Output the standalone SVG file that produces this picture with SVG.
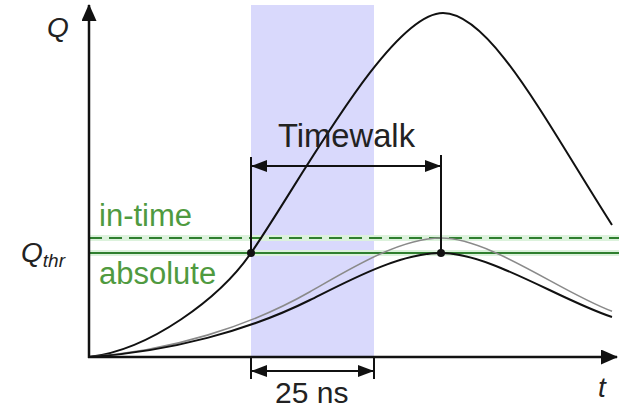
<svg xmlns="http://www.w3.org/2000/svg" width="619" height="410" viewBox="0 0 619 410">
<style>
.ax{stroke:#111;stroke-width:2.5;fill:none}
.crv{stroke:#111;stroke-width:2;fill:none}
.gry{stroke:#8a8a8a;stroke-width:1.6;fill:none}
.dim{stroke:#111;stroke-width:2;fill:none}
.halo{stroke:#dcf2dc;stroke-width:6;fill:none}
.thr{stroke:#2f7f2f;stroke-width:2.2;fill:none}
.lbl{font-family:"Liberation Sans",Arial,sans-serif;fill:#222}
.it{font-style:italic}
.grn{fill:#4f9a40}
</style>
<defs>
<marker id="ah" viewBox="0 0 16 12" refX="15" refY="6" markerWidth="16" markerHeight="12" markerUnits="userSpaceOnUse" orient="auto-start-reverse">
<path d="M0,0 L16,6 L0,12 Z" fill="#111"/>
</marker>
<marker id="axh" viewBox="0 0 17 15" refX="16" refY="7.5" markerWidth="17" markerHeight="15" markerUnits="userSpaceOnUse" orient="auto">
<path d="M0,0 L17,7.5 L0,15 Z" fill="#111"/>
</marker>
</defs>
<rect width="619" height="410" fill="#fff"/>
<g id="band"><rect x="251" y="5" width="123" height="352" fill="#d9d9fc"/></g>
<g id="thresholds">
<line class="halo" x1="89" y1="238" x2="619" y2="238"/>
<line class="halo" x1="89" y1="253" x2="619" y2="253"/>
<line class="thr" x1="89" y1="238" x2="619" y2="238" stroke-dasharray="13 7"/>
<line class="thr" x1="89" y1="253" x2="619" y2="253"/>
</g>
<g id="curves">
<path id="big" class="crv" d="M89,357 C150,350 220,298 251,253 C300,182 390,13 443,13 C490,13 545,120 612,225"/>
<path id="gray" class="gry" vector-effect="non-scaling-stroke" transform="translate(0,357) scale(1,1.144) translate(0,-357)" d="M89,357 C170,352 250,330 310,300 C350,280 400,253 441,253 C490,253 560,300 612,317"/>
<path id="small" class="crv" d="M89,357 C170,352 250,330 310,300 C350,280 400,253 441,253 C490,253 560,300 612,317"/>
</g>
<g id="axes">
<line class="ax" x1="89" y1="358" x2="89" y2="5" marker-end="url(#axh)"/>
<line class="ax" x1="88" y1="357" x2="617" y2="357" marker-end="url(#axh)"/>
</g>
<g id="connectors">
<line class="dim" x1="251" y1="157" x2="251" y2="253"/>
<line class="dim" x1="441" y1="155" x2="441" y2="253"/>
<line class="dim" x1="252" y1="166" x2="440" y2="166" marker-start="url(#ah)" marker-end="url(#ah)"/>
<line class="dim" x1="251" y1="357" x2="251" y2="379"/>
<line class="dim" x1="374" y1="357" x2="374" y2="379"/>
<line class="dim" x1="252" y1="371" x2="373" y2="371" marker-start="url(#ah)" marker-end="url(#ah)"/>
</g>
<g id="points">
<circle cx="251" cy="253" r="4" fill="#111"/>
<circle cx="441" cy="253" r="4" fill="#111"/>
</g>
<g id="labels">
<text class="lbl it" x="47" y="37" font-size="28">Q</text>
<text class="lbl it" x="21" y="262" font-size="28">Q<tspan font-size="19" dy="5">thr</tspan></text>
<text class="lbl it" x="598" y="397" font-size="28">t</text>
<text class="lbl" x="278" y="147" font-size="33" textLength="137" lengthAdjust="spacingAndGlyphs">Timewalk</text>
<text class="lbl" x="275" y="403" font-size="30">25 ns</text>
<text class="lbl grn" x="99" y="226" font-size="31">in-time</text>
<text class="lbl grn" x="99" y="284" font-size="31">absolute</text>
</g>
</svg>
